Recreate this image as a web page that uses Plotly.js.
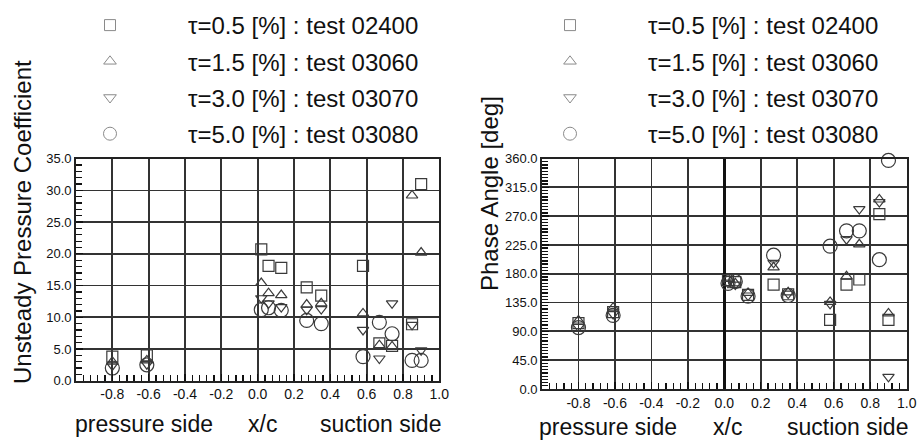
<!DOCTYPE html>
<html>
<head>
<meta charset="utf-8">
<script src="https://cdn.plot.ly/plotly-3.0.1.min.js"></script>
<style>html,body{margin:0;padding:0;background:#fff;}#chart{width:919px;height:441px;}</style>
</head>
<body>
<div id="chart"></div>
<script>
// ---- data ----
const xLoc = [-0.8, -0.61, 0.02, 0.06, 0.13, 0.27, 0.35, 0.58, 0.67, 0.74, 0.85, 0.90];
const seriesNames = [
  'τ=0.5 [%] : test 02400',
  'τ=1.5 [%] : test 03060',
  'τ=3.0 [%] : test 03070',
  'τ=5.0 [%] : test 03080'
];
// Unsteady pressure coefficient
const cpTau05 = [3.8, 4.0, 20.7, 18.1, 17.8, 14.7, 13.4, 18.1, 5.9, 5.5, 8.9, 31.0];
const cpTau15 = [3.0, 3.2, 15.4, 13.8, 13.5, 12.0, 12.2, 10.6, 5.6, 5.4, 29.2, 20.2];
const cpTau30 = [2.4, 2.6, 13.0, 12.2, 11.6, 11.2, 11.3, 8.0, 3.5, 12.2, 8.8, 4.8];
const cpTau50 = [2.0, 2.5, 11.2, 11.5, 11.1, 9.5, 9.0, 3.8, 9.2, 7.4, 3.2, 3.2];
// Phase angle [deg]
const phTau05 = [103, 120, 170, 167, 147, 163, 148, 108, 163, 171, 273, 108];
const phTau15 = [107, 127, 172, 165, 150, 190, 151, 136, 176, 226, 296, 118];
const phTau30 = [97, 117, 166, 163, 146, 197, 149, 133, 234, 281, 292, 19];
const phTau50 = [96, 115, 165, 168, 145, 209, 146, 223, 247, 247, 202, 357];
// tick labels
const xTickVals = [-0.8, -0.6, -0.4, -0.2, 0.0, 0.2, 0.4, 0.6, 0.8, 1.0];
const xTickText = xTickVals.map(v => v.toFixed(1));
const cpTickVals = [0, 5, 10, 15, 20, 25, 30, 35];
const phTickVals = [0, 45, 90, 135, 180, 225, 270, 315, 360];

// ---- styling ----
const FONT = 'Liberation Sans, Arial, Helvetica, sans-serif';
const symbols = ['square-open', 'triangle-up-open', 'triangle-down-open', 'circle-open'];
const sizes = [11, 10, 10, 14];
const markColor = '#3a3a3a';
const legColor = '#8a8a8a';

const cpSeries = [cpTau05, cpTau15, cpTau30, cpTau50];
const phSeries = [phTau05, phTau15, phTau30, phTau50];

const traces = [];
cpSeries.forEach((ys, i) => traces.push({
  type: 'scatter', mode: 'markers', x: xLoc, y: ys, xaxis: 'x', yaxis: 'y',
  name: seriesNames[i], showlegend: false, cliponaxis: false,
  marker: {symbol: symbols[i], size: sizes[i], color: markColor, line: {width: 1.2, color: markColor}}
}));
phSeries.forEach((ys, i) => traces.push({
  type: 'scatter', mode: 'markers', x: xLoc, y: ys, xaxis: 'x2', yaxis: 'y2',
  name: seriesNames[i], showlegend: false, cliponaxis: false,
  marker: {symbol: symbols[i], size: sizes[i], color: markColor, line: {width: 1.2, color: markColor}}
}));
// legend-only entries (lighter, smaller symbols as in the reference)
['legend', 'legend2'].forEach((lg, k) => {
  seriesNames.forEach((nm, i) => traces.push({
    type: 'scatter', mode: 'markers', x: [null], y: [null],
    xaxis: k ? 'x2' : 'x', yaxis: k ? 'y2' : 'y',
    name: nm, legend: lg, legendgroup: lg + i, showlegend: true,
    marker: {symbol: symbols[i], size: i === 3 ? 13 : 11, color: legColor, line: {width: 1, color: legColor}}
  }));
});

// minor tick positions (axis decoration)
function steps(a, b, d) { const out = []; for (let v = a; v <= b + 1e-9; v += d) out.push(+v.toFixed(4)); return out; }
const xMinor = steps(-1.0, 1.0, 0.04);
const cpMinor = steps(0, 35, 1);
const phMinor = steps(0, 360, 5);

const gridColor = '#333';
function minorCfg(vals) {
  return {tickmode: 'array', tickvals: vals, ticks: 'inside', ticklen: 6, tickcolor: '#111', tickwidth: 1.3, showgrid: false};
}
function xAxis(domain, anchor, zeroline) {
  return {
    domain: domain, anchor: anchor, range: [-1.0, 1.0],
    tickmode: 'array', tickvals: xTickVals, ticktext: xTickText,
    showgrid: true, gridcolor: gridColor, gridwidth: 1.8,
    zeroline: zeroline, zerolinecolor: '#111', zerolinewidth: 3,
    showline: true, linecolor: '#222', linewidth: 1.8, mirror: true,
    ticks: 'inside', ticklen: 7, tickcolor: '#111', tickwidth: 1.3,
    minor: minorCfg(xMinor),
    tickfont: {family: FONT, size: 14, color: '#111'}
  };
}
function yAxis(domain, anchor, range, tv, mv) {
  return {
    domain: domain, anchor: anchor, range: range,
    tickmode: 'array', tickvals: tv, ticktext: tv.map(v => v.toFixed(1)),
    showgrid: true, gridcolor: gridColor, gridwidth: 1.8, zeroline: false,
    showline: true, linecolor: '#222', linewidth: 1.8, mirror: true,
    ticks: 'inside', ticklen: 7, tickcolor: '#111', tickwidth: 1.3,
    minor: minorCfg(mv),
    tickfont: {family: FONT, size: 13, color: '#111'}
  };
}

const W = 919, H = 441;
const px = v => v / W, py = v => 1 - v / H;

const titleFont = {family: FONT, size: 24, color: '#111'};
const sideFont = {family: FONT, size: 23, color: '#111'};
function ann(text, x, y, font, angle) {
  return {text: text, x: px(x), y: py(y), xref: 'paper', yref: 'paper', showarrow: false,
          font: font, xanchor: 'center', yanchor: 'middle', textangle: angle || 0};
}
const annotations = [
  ann('Unsteady Pressure Coefficient', 22, 222, titleFont, -90),
  ann('Phase Angle [deg]', 489, 194, titleFont, -90),
  ann('pressure side', 144, 424, sideFont),
  ann('x/c', 262, 424, sideFont),
  ann('suction side', 380, 424, sideFont),
  ann('pressure side', 608, 427, sideFont),
  ann('x/c', 727, 427, sideFont),
  ann('suction side', 847, 427, sideFont)
];

function legendCfg(x) {
  return {
    x: x, y: py(3), xref: 'paper', yref: 'paper', xanchor: 'left', yanchor: 'top',
    font: {family: FONT, size: 24, color: '#111'}, itemwidth: 146, tracegroupgap: 2, traceorder: 'grouped',
    bgcolor: 'rgba(0,0,0,0)', borderwidth: 0, itemclick: false, itemdoubleclick: false
  };
}

const layout = {
  width: W, height: H, margin: {l: 0, r: 0, t: 0, b: 0},
  paper_bgcolor: '#fff', plot_bgcolor: '#fff',
  font: {family: FONT, color: '#111'},
  xaxis: xAxis([px(76), px(439.3)], 'y', false),
  yaxis: yAxis([py(380.7), py(158.7)], 'x', [0, 35], cpTickVals, cpMinor),
  xaxis2: xAxis([px(542), px(906.7)], 'y2', true),
  yaxis2: yAxis([py(389), py(158.5)], 'x2', [0, 360], phTickVals, phMinor),
  legend: legendCfg(px(32)),
  legend2: legendCfg(px(492)),
  annotations: annotations,
  showlegend: true
};

Plotly.newPlot('chart', traces, layout, {displayModeBar: false, staticPlot: true});
</script>
</body>
</html>
